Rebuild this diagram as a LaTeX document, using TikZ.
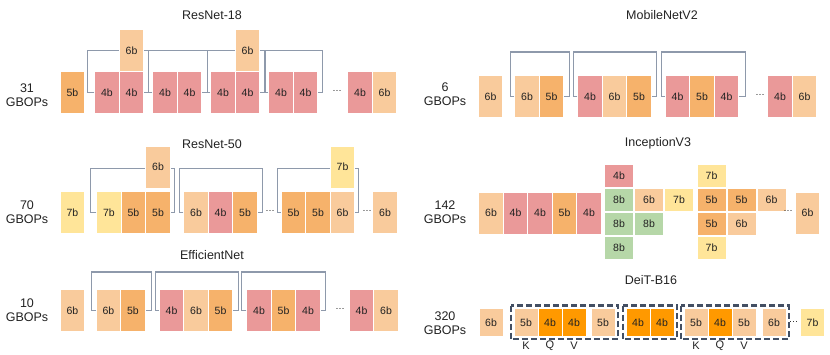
\documentclass[tikz,border=0pt]{standalone}
\usepackage{fontspec}
\setmainfont{Liberation Sans}
\definecolor{txt}{HTML}{222222}
\definecolor{cfour}{HTML}{EA9999}
\definecolor{cfive}{HTML}{F6B26B}
\definecolor{csix}{HTML}{F9CB9C}
\definecolor{cseven}{HTML}{FFE599}
\definecolor{ceight}{HTML}{B6D7A8}
\definecolor{cquant}{HTML}{FF9900}
\definecolor{skipgray}{HTML}{8E99AB}
\definecolor{dashgray}{HTML}{434F63}
\tikzset{
  blk/.style={draw=white,line width=0.8pt,inner sep=0pt,minimum width=24.5pt,
    minimum height=42pt,text=txt,font=\fontsize{10.5}{12}\selectfont},
  bfour/.style={blk,fill=cfour},
  bfive/.style={blk,fill=cfive},
  bsix/.style={blk,fill=csix},
  bseven/.style={blk,fill=cseven},
  beight/.style={blk,fill=ceight},
  bquant/.style={blk,fill=cquant},
  cell/.style={minimum width=29pt,minimum height=23pt},
  tok/.style={minimum width=24pt,minimum height=28pt},
  skipline/.style={draw=skipgray,line width=1.1pt},
  dashbox/.style={draw=dashgray,line width=2.2pt,dash pattern=on 6pt off 3pt},
  title/.style={text=txt,font=\fontsize{12.5}{15}\selectfont},
  ops/.style={text=txt,align=center,font=\fontsize{12.5}{14}\selectfont},
  more/.style={text=txt,inner sep=0pt,font=\fontsize{9.5}{10}\selectfont},
  qkv/.style={text=txt,font=\fontsize{11}{13}\selectfont}
}
\begin{document}
\begin{tikzpicture}[x=1pt,y=-1pt,line cap=butt,line join=miter]
  \useasboundingbox (0,0) rectangle (830,355);

  \node[title] (at) at (212,15) {ResNet-18};
  \node[ops] (a0) at (27,95) {31\\GBOPs};
  \node[bfive] (a1) at (72.5,92.5) {5b};
  \node[bfour] (a2) at (107,92.5) {4b};
  \node[bfour] (a3) at (131.5,92.5) {4b};
  \node[bfour] (a4) at (165,92.5) {4b};
  \node[bfour] (a5) at (189.5,92.5) {4b};
  \node[bfour] (a6) at (223,92.5) {4b};
  \node[bfour] (a7) at (247.5,92.5) {4b};
  \node[bfour] (a8) at (281,92.5) {4b};
  \node[bfour] (a9) at (305.5,92.5) {4b};
  \node[more] (ad) at (337,91) {…};
  \node[bfour] (a10) at (360,92.5) {4b};
  \node[bsix] (a11) at (384.5,92.5) {6b};
  \draw[skipline] (a2.west) -- ++(-7,0) -- ++(0,-42) -| ([xshift=4pt]a3.east) -- (a3.east);
  \draw[skipline] (a4.west) -- ++(-4,0) -- ++(0,-42) -| ([xshift=5pt]a5.east) -- (a5.east);
  \draw[skipline] (a6.west) -- ++(-3,0) -- ++(0,-42) -| ([xshift=4pt]a7.east) -- (a7.east);
  \draw[skipline] (a8.west) -- ++(-3,0) -- ++(0,-42) -| ([xshift=4pt]a9.east) -- (a9.east);
  \node[bsix] (a3u) at (131.5,50.5) {6b};
  \node[bsix] (a7u) at (247.5,50.5) {6b};

  \node[title] (bt) at (212,144) {ResNet-50};
  \node[ops] (b0) at (27,212.5) {70\\GBOPs};
  \node[bseven] (b1) at (72.5,212.5) {7b};
  \node[bseven] (b2) at (109,212.5) {7b};
  \node[bfive] (b3) at (133.5,212.5) {5b};
  \node[bfive] (b4) at (158,212.5) {5b};
  \node[bsix] (b5) at (196,212.5) {6b};
  \node[bfour] (b6) at (220.5,212.5) {4b};
  \node[bfive] (b7) at (245,212.5) {5b};
  \node[more] (bd1) at (270,211) {…};
  \node[bfive] (b8) at (293.5,212.5) {5b};
  \node[bfive] (b9) at (318,212.5) {5b};
  \node[bsix] (b10) at (342.5,212.5) {6b};
  \node[more] (bd2) at (367,211) {…};
  \node[bsix] (b11) at (385,212.5) {6b};
  \draw[skipline] (b2.west) -- ++(-6,0) -- ++(0,-44) -| ([xshift=4pt]b4.east) -- (b4.east);
  \draw[skipline] (b5.west) -- ++(-4,0) -- ++(0,-44) -| ([xshift=5pt]b7.east) -- (b7.east);
  \draw[skipline] (b8.west) -- ++(-3,0) -- ++(0,-44) -| ([xshift=3pt]b10.east) -- (b10.east);
  \node[bsix] (b4u) at (158,167) {6b};
  \node[bseven] (b10u) at (342.5,167) {7b};

  \node[title] (ct) at (212,255) {EfficientNet};
  \node[ops] (c0) at (27,310) {10\\GBOPs};
  \node[bsix] (c1) at (72.5,310.5) {6b};
  \node[bsix] (c2) at (108.5,310.5) {6b};
  \node[bfive] (c3) at (133,310.5) {5b};
  \node[bfour] (c4) at (171.5,310.5) {4b};
  \node[bsix] (c5) at (196,310.5) {6b};
  \node[bfive] (c6) at (220.5,310.5) {5b};
  \node[bfour] (c7) at (259,310.5) {4b};
  \node[bfive] (c8) at (283.5,310.5) {5b};
  \node[bfour] (c9) at (308,310.5) {4b};
  \node[more] (cd) at (340,309) {…};
  \node[bfour] (c10) at (361.5,310.5) {4b};
  \node[bsix] (c11) at (386,310.5) {6b};
  \draw[skipline] (c2.west) -- ++(-4,0) -- ++(0,-38.5) -| ([xshift=6pt]c3.east) -- (c3.east);
  \draw[skipline] (c4.west) -- ++(-3,0) -- ++(0,-38.5) -| ([xshift=5pt]c6.east) -- (c6.east);
  \draw[skipline] (c7.west) -- ++(-5,0) -- ++(0,-38.5) -| ([xshift=5pt]c9.east) -- (c9.east);

  \node[title] (dt) at (662,15) {MobileNetV2};
  \node[ops] (d0) at (445,94.5) {6\\GBOPs};
  \node[bsix] (d1) at (490.5,96.5) {6b};
  \node[bsix] (d2) at (527,96.5) {6b};
  \node[bfive] (d3) at (551.5,96.5) {5b};
  \node[bfour] (d4) at (590,96.5) {4b};
  \node[bsix] (d5) at (614.5,96.5) {6b};
  \node[bfive] (d6) at (639,96.5) {5b};
  \node[bfour] (d7) at (677.5,96.5) {4b};
  \node[bfive] (d8) at (702,96.5) {5b};
  \node[bfour] (d9) at (726.5,96.5) {4b};
  \node[more] (dd) at (760,95) {…};
  \node[bfour] (d10) at (780,96.5) {4b};
  \node[bsix] (d11) at (804.5,96.5) {6b};
  \draw[skipline] (d2.west) -- ++(-4,0) -- ++(0,-44.5) -| ([xshift=5pt]d3.east) -- (d3.east);
  \draw[skipline] (d4.west) -- ++(-4,0) -- ++(0,-44.5) -| ([xshift=5pt]d6.east) -- (d6.east);
  \draw[skipline] (d7.west) -- ++(-3,0) -- ++(0,-44.5) -| ([xshift=6pt]d9.east) -- (d9.east);

  \node[title] (et) at (658,143) {InceptionV3};
  \node[ops] (e0) at (445,212) {142\\GBOPs};
  \node[bsix] (e1) at (491,213) {6b};
  \node[bfour] (e2) at (515.5,213) {4b};
  \node[bfour] (e3) at (540,213) {4b};
  \node[bfive] (e4) at (564.5,213) {5b};
  \node[bfour] (e5) at (589,213) {4b};
  \node[bfour,cell] (e6) at (619,176) {4b};
  \node[beight,cell] (e7) at (619,200) {8b};
  \node[beight,cell] (e8) at (619,224) {8b};
  \node[beight,cell] (e9) at (619,248) {8b};
  \node[bsix,cell] (e10) at (649,200) {6b};
  \node[beight,cell] (e11) at (649,224) {8b};
  \node[bseven,cell] (e12) at (679,200) {7b};
  \node[bseven,cell] (e13) at (711.5,176) {7b};
  \node[bfive,cell] (e14) at (711.5,200) {5b};
  \node[bfive,cell] (e15) at (711.5,224) {5b};
  \node[bseven,cell] (e16) at (711.5,248) {7b};
  \node[bfive,cell] (e17) at (741.5,200) {5b};
  \node[bsix,cell] (e18) at (741.5,224) {6b};
  \node[bsix,cell] (e19) at (771.5,200) {6b};
  \node[more] (ed) at (788,211) {…};
  \node[bsix] (e20) at (807.5,213) {6b};

  \node[title] (ft) at (651,280) {DeiT-B16};
  \node[ops] (f0) at (445,323) {320\\GBOPs};
  \node[bsix,tok] (f1) at (491,322.5) {6b};
  \node[bsix,tok] (f2) at (526,322.5) {5b};
  \node[bquant,tok] (f3) at (550,322.5) {4b};
  \node[bquant,tok] (f4) at (574,322.5) {4b};
  \node[bsix,tok] (f5) at (603,322.5) {5b};
  \node[bquant,tok] (f6) at (638,322.5) {4b};
  \node[bquant,tok] (f7) at (662,322.5) {4b};
  \node[bsix,tok] (f8) at (696,322.5) {5b};
  \node[bquant,tok] (f9) at (720,322.5) {4b};
  \node[bsix,tok] (f10) at (744,322.5) {5b};
  \node[bsix,tok] (f11) at (774,322.5) {6b};
  \node[more] (fd) at (793.5,321.5) {…};
  \node[bseven,tok] (f12) at (812.5,322.5) {7b};
  \draw[dashbox] ([shift={(-3,-2.5)}]f2.north west) rectangle ([shift={(2.5,2.5)}]f5.south east);
  \draw[dashbox] ([shift={(-3,-2.5)}]f6.north west) rectangle ([shift={(2.5,2.5)}]f7.south east);
  \draw[dashbox] ([shift={(-2.5,-2.5)}]f8.north west) rectangle ([shift={(2.5,2.5)}]f11.south east);
  \node[qkv] (k1) at (526,346) {K};
  \node[qkv] (q1) at (550,346) {Q};
  \node[qkv] (v1) at (574,346) {V};
  \node[qkv] (k2) at (696,346) {K};
  \node[qkv] (q2) at (720,346) {Q};
  \node[qkv] (v2) at (744,346) {V};
\end{tikzpicture}
\end{document}
